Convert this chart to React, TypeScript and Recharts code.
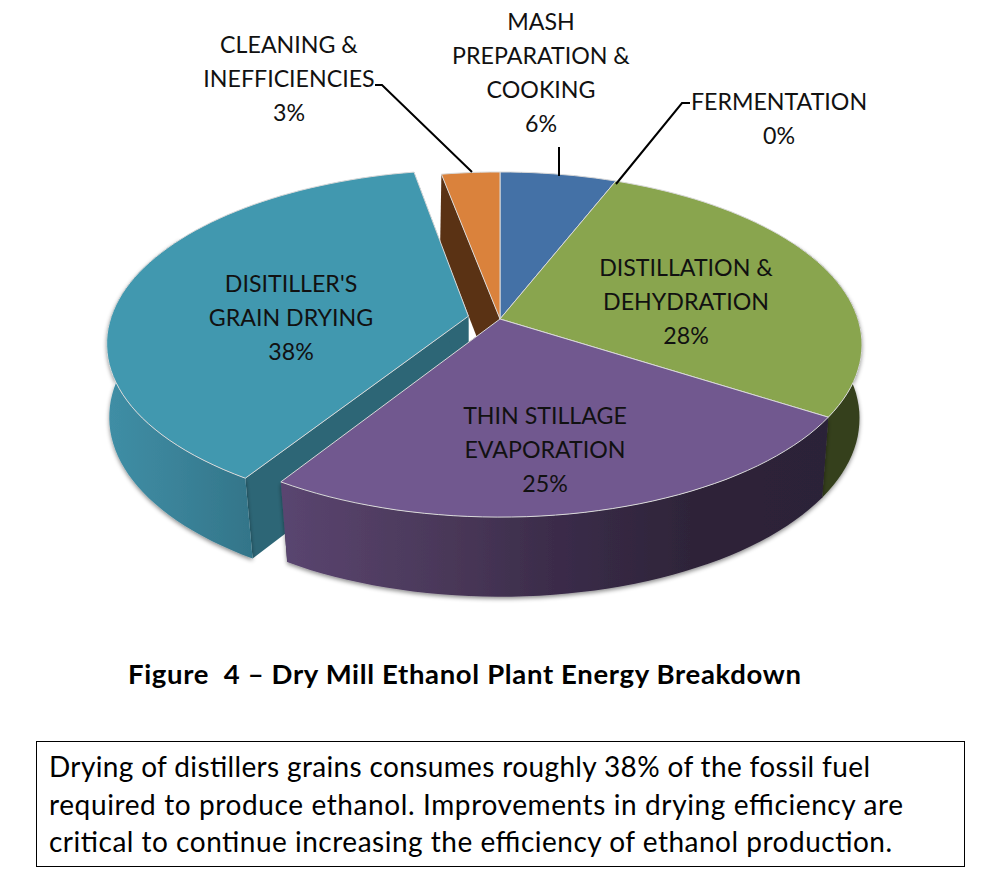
import { PieChart, Pie } from 'recharts';

const sliceNames = ['MASH', 'FERMENTATION', 'DISTILLATION', 'THIN', 'DISITILLER', 'CLEANING'];
const sliceValues = [6, 0, 28, 25, 38, 3];
const topColors = ['#4471a6', '#4471a6', '#89a54e', '#71588f', '#4198af', '#da823c'];
const cutColors = ['#2a4566', '#2a4566', '#35401f', '#2d2339', '#2d6676', '#5a3214'];
const wallFills = ['#2a4566', '#2a4566', '#35401f', 'url(#purpleWall)', 'url(#tealWall)', '#5a3214'];
const explodedSlice = 'DISITILLER';

const labelLines: Record<string, string[]> = {
  MASH: ['MASH', 'PREPARATION &', 'COOKING'],
  FERMENTATION: ['FERMENTATION'],
  DISTILLATION: ['DISTILLATION &', 'DEHYDRATION'],
  THIN: ['THIN STILLAGE', 'EVAPORATION'],
  DISITILLER: ["DISITILLER'S", 'GRAIN DRYING'],
  CLEANING: ['CLEANING &', 'INEFFICIENCIES'],
};

const titleText = 'Figure  4 – Dry Mill Ethanol Plant Energy Breakdown';
const noteLines = [
  'Drying of distillers grains consumes roughly 38% of the fossil fuel',
  'required to produce ethanol. Improvements in drying efficiency are',
  'critical to continue increasing the efficiency of ethanol production.',
];
const noteWidths = [821, 854, 843];

// where each label sits on the page, plus its leader line
const labelSpots: Record<string, { x: number; y: number; leader?: string }> = {
  MASH: { x: 541, y: 21, leader: '559,147 559,176' },
  FERMENTATION: { x: 779, y: 101, leader: '690,103 682,103 616,184' },
  DISTILLATION: { x: 686, y: 267 },
  THIN: { x: 545, y: 415 },
  DISITILLER: { x: 291, y: 283 },
  CLEANING: { x: 289, y: 44, leader: '375,85 382,85 472,172' },
};

const chartData = sliceNames.map((name, i) => ({ name, value: sliceValues[i] }));

const RAD = Math.PI / 180;
const EXPLODE = 0.09;
const lineGap = 34;

// squash the flat pie into a tilted disc, near edge bigger than far edge
function project(cx: number, cy: number, r: number, u: number, v: number, lower: boolean) {
  const k = lower ? 0.12 : 0.148;
  const ry = r * (lower ? 0.491 : 0.4715);
  const w = 1 + k * v;
  const y0 = lower ? cy + 78 : cy;
  const rx = lower ? r * 0.997 : r;
  return [cx + (rx * u) / w, y0 - (ry * v) / w];
}

function geometry(props: any) {
  const { cx, cy, outerRadius, startAngle, endAngle, name } = props;
  const off = name === explodedSlice ? EXPLODE : 0;
  const mid = ((startAngle + endAngle) / 2) * RAD;
  const du = off * Math.cos(mid);
  const dv = off * Math.sin(mid);
  const pt = (u: number, v: number, lower: boolean) =>
    project(cx, cy, outerRadius, u + du, v + dv, lower);
  const angles: number[] = [];
  const steps = Math.max(1, Math.ceil(Math.abs(endAngle - startAngle) / 2));
  for (let i = 0; i <= steps; i++) angles.push(startAngle + ((endAngle - startAngle) * i) / steps);
  return { pt, angles };
}

const toPath = (pts: number[][]) =>
  'M' + pts.map((p) => `${p[0].toFixed(1)},${p[1].toFixed(1)}`).join('L') + 'Z';

function TopFace(props: any) {
  if (props.startAngle === props.endAngle) return null;
  const { pt, angles } = geometry(props);
  const rim = angles.map((a) => pt(Math.cos(a * RAD), Math.sin(a * RAD), false));
  const d = toPath([pt(0, 0, false), ...rim]);
  return <path d={d} fill={props.fill} stroke="#d9d9d9" strokeWidth={1} strokeLinejoin="round" />;
}

function CutFaces(props: any) {
  if (props.startAngle === props.endAngle) return null;
  const { pt } = geometry(props);
  const idx = sliceNames.indexOf(props.name);
  const face = (a: number) => {
    const u = Math.cos(a * RAD);
    const v = Math.sin(a * RAD);
    return toPath([pt(0, 0, false), pt(u, v, false), pt(u, v, true), pt(0, 0, true)]);
  };
  return (
    <g fill={cutColors[idx]}>
      <path d={face(props.startAngle)} />
      <path d={face(props.endAngle)} />
    </g>
  );
}

function OuterWall(props: any) {
  if (props.startAngle === props.endAngle) return null;
  const { pt, angles } = geometry(props);
  // a bit past the sides so the rim has no notch, the top face hides the rest
  const front = angles.filter((a) => Math.sin(a * RAD) <= 0.5);
  if (front.length < 2) return null;
  const upper = front.map((a) => pt(Math.cos(a * RAD), Math.sin(a * RAD), false));
  const lower = front.map((a) => pt(Math.cos(a * RAD), Math.sin(a * RAD), true)).reverse();
  const idx = sliceNames.indexOf(props.name);
  return <path d={toPath([...upper, ...lower])} fill={wallFills[idx]} filter="url(#wallShadow)" />;
}

function renderLabel(props: any) {
  const spot = labelSpots[props.name];
  const rows = [...labelLines[props.name], `${props.value}%`];
  return (
    <g key={props.name}>
      {spot.leader && <polyline points={spot.leader} fill="none" stroke="#000" strokeWidth={2} />}
      {rows.map((row, i) => (
        <text
          key={row}
          x={spot.x}
          y={spot.y + i * lineGap}
          textAnchor="middle"
          dominantBaseline="central"
          fontFamily="Lato"
          fontSize={23.2}
          fill="#111"
        >
          {row}
        </text>
      ))}
    </g>
  );
}

const pieProps = {
  data: chartData,
  dataKey: 'value',
  nameKey: 'name',
  cx: 500,
  cy: 319,
  innerRadius: 0,
  outerRadius: 358,
  startAngle: 90,
  endAngle: -270,
  stroke: 'none',
  isAnimationActive: false,
};

const coloredData = chartData.map((d, i) => ({ ...d, fill: topColors[i] }));

export default function App() {
  return (
    <div style={{ position: 'absolute', left: 0, top: 0, width: 1000, height: 869, background: '#fff' }}>
      <PieChart width={1000} height={640} margin={{ top: 0, right: 0, bottom: 0, left: 0 }}>
        <defs>
          <linearGradient id="purpleWall" gradientUnits="userSpaceOnUse" x1="281" y1="0" x2="828" y2="0">
            <stop offset="0" stopColor="#5a4570" />
            <stop offset="0.3" stopColor="#4a3859" />
            <stop offset="0.5" stopColor="#3b2c4a" />
            <stop offset="0.75" stopColor="#2e2439" />
            <stop offset="1" stopColor="#2c2238" />
          </linearGradient>
          <linearGradient id="tealWall" gradientUnits="userSpaceOnUse" x1="108" y1="0" x2="252" y2="0">
            <stop offset="0" stopColor="#3f8ea5" />
            <stop offset="0.5" stopColor="#3a8298" />
            <stop offset="1" stopColor="#337589" />
          </linearGradient>
          <filter id="wallShadow" x="-10%" y="-10%" width="120%" height="125%">
            <feDropShadow dx="0" dy="2" stdDeviation="2" floodColor="#000" floodOpacity="0.45" />
          </filter>
        </defs>
        <Pie {...pieProps} shape={CutFaces} />
        <Pie {...pieProps} shape={OuterWall} />
        <Pie {...pieProps} data={coloredData} shape={TopFace} label={renderLabel} labelLine={false} />
      </PieChart>
      <svg width={1000} height={229} style={{ position: 'absolute', left: 0, top: 640 }} fontFamily="Lato">
        <text x={128} y={44} fontSize={27.5} fontWeight={700} textLength={673} fill="#000" style={{ whiteSpace: 'pre' }}>
          {titleText}
        </text>
        <rect x={36.5} y={101.5} width={928} height={125} fill="none" stroke="#000" strokeWidth={1} />
        {noteLines.map((l, i) => (
          <text key={l} x={49} y={137 + i * 37.5} fontSize={28} textLength={noteWidths[i]} fill="#000">
            {l}
          </text>
        ))}
      </svg>
    </div>
  );
}
